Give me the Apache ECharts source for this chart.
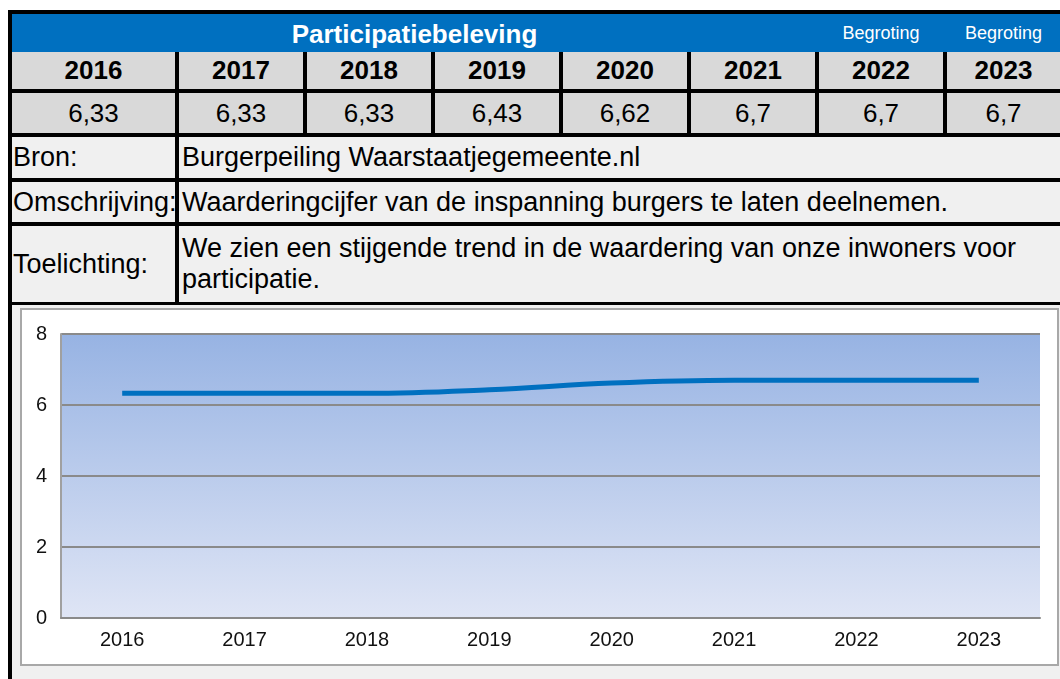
<!DOCTYPE html>
<html>
<head>
<meta charset="utf-8">
<script src="https://cdn.jsdelivr.net/npm/echarts@6/dist/echarts.min.js"></script>
<style>
  body { margin: 0; width: 1060px; height: 679px; overflow: hidden; background: #fff; position: relative; font-family: "Liberation Sans", Arial, sans-serif; }
  .abs { position: absolute; box-sizing: border-box; }
  .cell { position: absolute; box-sizing: border-box; color: #000; font-size: 26px; white-space: nowrap; }
  .c { text-align: center; }
  #frame { position: absolute; left: 20px; top: 308px; width: 1039px; height: 358px; box-sizing: border-box; border: 2px solid #a8a8a8; background: #fff; }
  #charts { width: 1035px; height: 354px; }
</style>
</head>
<body>
<div class="abs" style="left:8px;top:10px;width:1060px;height:680px;background:#000"></div>
<div class="abs" style="left:12px;top:14px;width:1048px;height:38px;background:#0070c0"></div>
<div class="cell c" style="left:12px;top:15px;width:805px;height:38px;line-height:38px;color:#fff;font-weight:bold">Participatiebeleving</div>
<div id="table"></div>
<div class="abs" style="left:12px;top:305px;width:1048px;height:374px;background:#f0f0f0"></div>
<div id="frame"><div id="charts"></div></div>

<script>
// gegevens
var years = ['2016', '2017', '2018', '2019', '2020', '2021', '2022', '2023'];
var values = [6.33, 6.33, 6.33, 6.43, 6.62, 6.7, 6.7, 6.7];
var headNotes = ['', '', '', '', '', '', 'Begroting', 'Begroting'];
var yTicks = [0, 2, 4, 6, 8];
var infoRows = [
  ['Bron:', 'Burgerpeiling Waarstaatjegemeente.nl'],
  ['Omschrijving:', 'Waarderingcijfer van de inspanning burgers te laten deelnemen.'],
  ['Toelichting:', 'We zien een stijgende trend in de waardering van onze inwoners voor<br>participatie.']
];

// tabel opbouwen
var colX = [[12, 175], [179, 303], [307, 431], [435, 559], [563, 687], [691, 815], [819, 943], [947, 1060]];
var html = '';
function cell(x1, x2, y1, y2, bg, txt, extra) {
  return '<div class="cell" style="left:' + x1 + 'px;top:' + y1 + 'px;width:' + (x2 - x1) + 'px;height:' + (y2 - y1) +
    'px;background:' + bg + ';' + extra + '">' + txt + '</div>';
}
years.forEach(function (y, i) {
  var x = colX[i];
  if (headNotes[i]) {
    html += '<div class="cell c" style="left:' + x[0] + 'px;top:14px;width:' + (x[1] - x[0]) + 'px;height:38px;line-height:38px;color:#fff;font-size:18px">' + headNotes[i] + '</div>';
  }
  html += cell(x[0], x[1], 52, 89, '#d9d9d9', y, 'text-align:center;line-height:37px;font-weight:bold');
  html += cell(x[0], x[1], 93, 133, '#d9d9d9', String(values[i]).replace('.', ','), 'text-align:center;line-height:40px');
});
var rowY = [[137, 178], [182, 222], [226, 302]];
infoRows.forEach(function (r, i) {
  var y = rowY[i];
  var h = y[1] - y[0];
  html += cell(12, 175, y[0], y[1], '#f0f0f0', r[0], 'line-height:' + h + 'px;padding-left:1px;font-size:27px');
  if (i == 2) {
    html += cell(179, 1060, y[0], y[1], '#f0f0f0', r[1], 'line-height:31px;padding:7px 0 0 3px;font-size:27px');
  } else {
    html += cell(179, 1060, y[0], y[1], '#f0f0f0', r[1], 'line-height:' + h + 'px;padding-left:3px;font-size:27px');
  }
});
document.getElementById('table').innerHTML = html;

// grafiek
var myChart = echarts.init(document.getElementById('charts'));
var option = {
  animation: false,
  textStyle: { fontFamily: 'Liberation Sans', fontSize: 20 },
  grid: {
    left: 39, right: 17, top: 24, bottom: 46,
    show: true,
    borderWidth: 0,
    backgroundColor: {
      type: 'linear', x: 0, y: 0, x2: 0, y2: 1,
      colorStops: [{ offset: 0, color: '#97b3e3' }, { offset: 1, color: '#dfe5f5' }]
    }
  },
  xAxis: {
    type: 'category',
    data: years,
    boundaryGap: true,
    axisLine: { lineStyle: { color: '#8a8a8a', width: 2 } },
    axisTick: { show: false },
    axisLabel: { margin: 12, color: '#111', fontSize: 20, fontFamily: 'Liberation Sans' }
  },
  yAxis: {
    type: 'value',
    min: yTicks[0],
    max: yTicks[yTicks.length - 1],
    interval: 2,
    axisLine: { show: true, lineStyle: { color: '#a0a0a0', width: 2 } },
    axisTick: { show: false },
    splitLine: { lineStyle: { color: '#8a8a8a', width: 2 } },
    axisLabel: { margin: 14, color: '#111', fontSize: 20, fontFamily: 'Liberation Sans' }
  },
  series: [{
    name: 'Participatiebeleving',
    type: 'line',
    data: values,
    smooth: 0.4,
    symbol: 'none',
    lineStyle: { color: '#0070c0', width: 5 }
  }]
};
myChart.setOption(option);
</script>
</body>
</html>
